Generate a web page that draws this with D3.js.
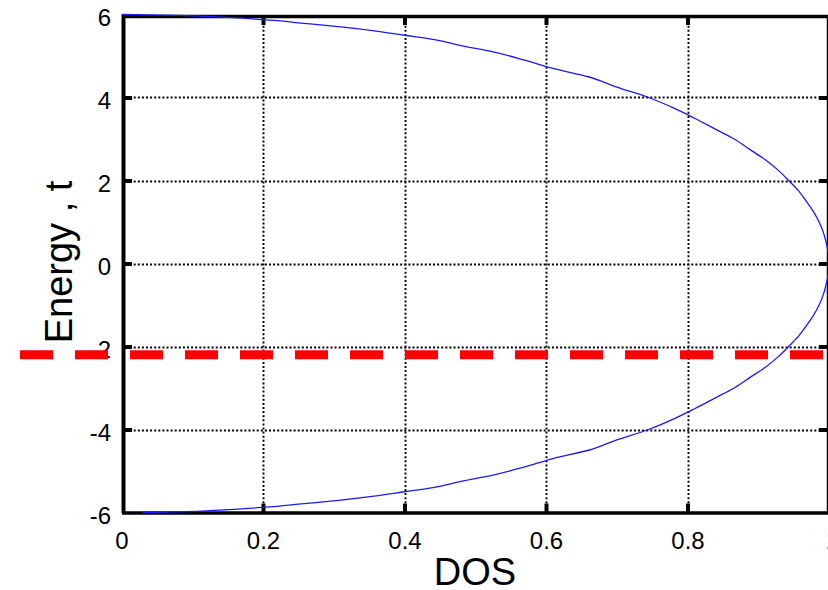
<!DOCTYPE html>
<html>
<head>
<meta charset="utf-8">
<script src="https://cdn.jsdelivr.net/npm/d3@7/dist/d3.min.js"></script>
<style>
  html, body { margin: 0; padding: 0; background: #ffffff; }
  svg { display: block; }
  text { font-family: "Liberation Sans", Arial, Helvetica, sans-serif; fill: #000; }
</style>
</head>
<body>
<svg id="chart" width="828" height="590"></svg>
<script>
// Axis ticks
const dosTicks = [0, 0.2, 0.4, 0.6, 0.8, 1];
const dosTickLabels = ["0", "0.2", "0.4", "0.6", "0.8", "1"];
const energyTicks = [-6, -4, -2, 0, 2, 4, 6];
const energyTickLabels = ["-6", "-4", "-2", "0", "2", "4", "6"];

// Density of states of the band, from the top edge (E = 6) down to the bottom edge (E = -6)
const bandEnergy = [6, 5.98, 5.95, 5.9, 5.85, 5.8, 5.7, 5.6, 5.5, 5.4, 5.25, 5.1, 4.9, 4.7, 4.5, 4.25, 4.0, 3.75, 3.5, 3.25, 3.0, 2.75, 2.5, 2.25, 2.0, 1.75, 1.5, 1.25, 1.0, 0.75, 0.5, 0.25, 0,
                    -0.25, -0.5, -0.75, -1.0, -1.25, -1.5, -1.75, -2.0, -2.25, -2.5, -2.75, -3.0, -3.25, -3.5, -3.75, -4.0, -4.25, -4.5, -4.7, -4.9, -5.1, -5.25, -5.4, -5.5, -5.6, -5.7, -5.8, -5.85, -5.9, -5.95, -5.98, -6];
const bandDos = [0, 0.08, 0.13, 0.18, 0.22, 0.25, 0.31, 0.36, 0.4, 0.44, 0.48, 0.525, 0.57, 0.61, 0.66, 0.7, 0.745, 0.78, 0.81, 0.838, 0.866, 0.888, 0.91, 0.928, 0.943, 0.957, 0.968, 0.978, 0.986, 0.992, 0.996, 0.999, 1.0,
                 0.999, 0.996, 0.992, 0.986, 0.978, 0.968, 0.957, 0.943, 0.928, 0.91, 0.888, 0.866, 0.838, 0.81, 0.78, 0.745, 0.7, 0.66, 0.61, 0.57, 0.525, 0.48, 0.44, 0.4, 0.36, 0.31, 0.25, 0.22, 0.18, 0.13, 0.09, 0.03];

// Fermi level marker
const fermiEnergy = -2.2;

const svg = d3.select("#chart");
const W = 828, H = 590;

const x = d3.scaleLinear().domain([0, 1]).range([121.5, 829]);
const y = d3.scaleLinear().domain([-6, 6]).range([512.5, 14.5]);

svg.append("rect").attr("width", W).attr("height", H).attr("fill", "#fff");

// Dotted grid
const grid = svg.append("g")
  .attr("stroke", "#000")
  .attr("stroke-width", 1.9)
  .attr("stroke-dasharray", "2,2.1")
  .attr("fill", "none");
grid.selectAll("line.v")
  .data(dosTicks.filter(d => d > 0 && d < 1))
  .join("line")
  .attr("class", "v")
  .attr("x1", d => Math.round(x(d)) + 0.5).attr("x2", d => Math.round(x(d)) + 0.5)
  .attr("y1", y(6) + 3).attr("y2", y(-6) - 2);
grid.selectAll("line.h")
  .data(energyTicks.filter(d => d > -6 && d < 6))
  .join("line")
  .attr("class", "h")
  .attr("y1", d => Math.round(y(d)) + 0.5).attr("y2", d => Math.round(y(d)) + 0.5)
  .attr("x1", x(0) + 4).attr("x2", x(1));

// Axes built from D3 axis generators, ticks pointing inward
const bottomAxis = d3.axisBottom(x).tickValues(dosTicks)
  .tickFormat((d, i) => dosTickLabels[i]).tickSizeInner(-9).tickSizeOuter(0).tickPadding(19);
const gb = svg.append("g").attr("transform", `translate(0,${y(-6)})`).call(bottomAxis);

const topAxis = d3.axisTop(x).tickValues(dosTicks).tickFormat("").tickSizeInner(-9).tickSizeOuter(0);
const gt = svg.append("g").attr("transform", `translate(0,${y(6) + 1.5})`).call(topAxis);

const leftAxis = d3.axisLeft(y).tickValues(energyTicks)
  .tickFormat((d, i) => energyTickLabels[i]).tickSizeInner(-9).tickSizeOuter(0).tickPadding(10);
const gl = svg.append("g").attr("transform", `translate(${x(0) + 1.5},0)`).call(leftAxis);

const rightAxis = d3.axisRight(y).tickValues(energyTicks).tickFormat("").tickSizeInner(-9).tickSizeOuter(0);
const gr = svg.append("g").attr("transform", `translate(${W},0)`).call(rightAxis);

[gb, gt, gl, gr].forEach(g => {
  g.select(".domain").attr("stroke", "#000").attr("stroke-width", 3.5);
  g.selectAll(".tick line").attr("stroke", "#000").attr("stroke-width", 4);
  g.selectAll(".tick text").attr("font-size", 24).attr("fill", "#000")
    .style("font-family", "'Liberation Sans', Arial, sans-serif");
});
gl.select(".domain").attr("stroke-width", 4);
gl.selectAll(".tick text").attr("dy", "0.44em").attr("x", -12);
gb.selectAll(".tick text").attr("dy", "0.71em");
// the last DOS label falls on the right border
gb.selectAll(".tick text").filter(d => d === 1).attr("x", 3);
// hide the end ticks that sit on the frame corners
gb.selectAll(".tick line").filter(d => d === 0 || d === 1).remove();
gt.selectAll(".tick line").filter(d => d === 0 || d === 1).remove();
gl.selectAll(".tick line").filter(d => d === -6 || d === 6).remove();
gr.selectAll(".tick line").filter(d => d === -6 || d === 6).remove();

// Axis titles
svg.append("text")
  .attr("x", 475).attr("y", 585)
  .attr("text-anchor", "middle")
  .attr("font-size", 38)
  .text("DOS");
svg.append("text")
  .attr("transform", "translate(72,262) rotate(-90)")
  .attr("text-anchor", "middle")
  .attr("font-size", 38)
  .text("Energy , t");

// DOS curve
const line = d3.line()
  .curve(d3.curveMonotoneY)
  .x((d, i) => x(bandDos[i]))
  .y((d, i) => y(bandEnergy[i]));
svg.append("path")
  .datum(bandEnergy)
  .attr("d", line)
  .attr("fill", "none")
  .attr("stroke", "#1a1aff")
  .attr("stroke-width", 1.3);

// Fermi level: thick red dashed line across the full width
svg.append("line")
  .attr("x1", 20).attr("x2", W)
  .attr("y1", y(fermiEnergy)).attr("y2", y(fermiEnergy))
  .attr("stroke", "#ff0000")
  .attr("stroke-width", 9)
  .attr("stroke-dasharray", "33,22");
</script>
</body>
</html>
